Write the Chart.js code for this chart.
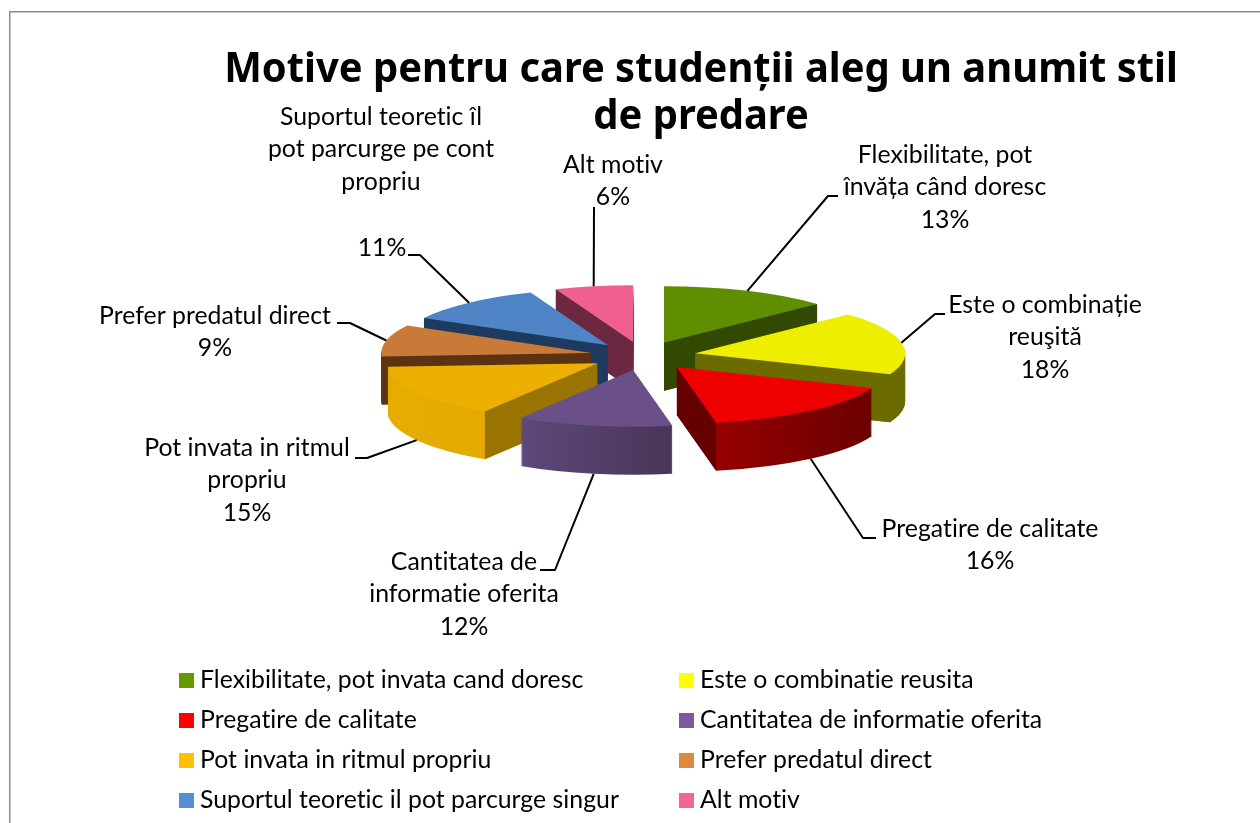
<!DOCTYPE html>
<html><head><meta charset="utf-8">
<style>html,body{margin:0;padding:0;background:#fff}canvas{display:block}</style>
<script src="https://cdn.jsdelivr.net/npm/chart.js@4"></script>
</head><body><canvas id="c" width="1260" height="823"></canvas>
<script>
const titleLines = ['Motive pentru care studenții aleg un anumit stil', 'de predare'];
const categories = ['Flexibilitate, pot invata cand doresc','Este o combinatie reusita','Pregatire de calitate','Cantitatea de informatie oferita','Pot invata in ritmul propriu','Prefer predatul direct','Suportul teoretic il pot parcurge singur','Alt motiv'];
const values = [13,18,16,12,15,9,11,6];
const faceColors = ['#5f8f00','#eeee00','#ee0000','#6b4f88','#ebb000','#c97a38','#4f84c6','#ef5f92'];
const legendColors = ['#669900','#ffff00','#ff0000','#7a5c9c','#ffc000','#dd8a40','#558ed5','#f0659a'];
const innerWall = ['#334800','#6b6b00','#660000','#4f3c68','#9a7400','#5c3312','#1f3a5f','#6b2840'];
const outerWallFrom = ['#334800','#6b6b00','#980000','#5f4a7d','#e9ae00','#5c3312','#1f3a5f','#6b2840'];
const outerWallTo = ['#334800','#6b6b00','#620000','#493759','#e3a800','#5c3312','#1f3a5f','#6b2840'];
const sliceLabels = [['Flexibilitate, pot','învăța când doresc','13%'],['Este o combinație','reuşită','18%'],['Pregatire de calitate','16%'],['Cantitatea de','informatie oferita','12%'],['Pot invata in ritmul','propriu','15%'],['Prefer predatul direct','9%'],['11%'],['Alt motiv','6%']];
const extraLabel = ['Suportul teoretic îl','pot parcurge pe cont','propriu'];
// label layout: centre x, first line centre y
const labelPos = [[945,155],[1045,305],[990,529],[464,562],[247,448],[215,316],[382,248],[613,165]];
const extraPos = [381,117];
// leader elbow points (screen layout)
const leaderPts = [[[828,196],[838,196]],[[935,314],[945,314]],[[863,538],[876,538]],[[555,570],[540,570]],[[367,458],[355,458]],[[350,323],[337,323]],[[420,255],[408,255]],[[594,207]]];
const drawOrder = [7,0,6,5,1,4,2,3];

const SQUASH = 0.27, EXPLODE = 53, DEPTH = 48, RADIUS = 210;
const LABEL_FONT = '24.8px Lato', LINE_H = 32.5;

const pie3d = {
  id:'pie3d',
  beforeDraw(chart){
    const c = chart.ctx; c.save();
    c.fillStyle='#fff'; c.fillRect(0,0,1260,823);
    c.strokeStyle='#8c8c8c'; c.lineWidth=1.5;
    c.beginPath(); c.moveTo(9.75,823); c.lineTo(9.75,11.75); c.lineTo(1260,11.75); c.stroke();
    c.fillStyle='#000'; c.textAlign='center'; c.textBaseline='middle';
    c.font='bold 42px "Noto Sans"';
    c.translate(701,0); c.scale(0.95,1);
    c.fillText(titleLines[0],0,70); c.fillText(titleLines[1],0,117);
    c.restore();
  },
  beforeDatasetDraw(chart){
    const c = chart.ctx, arcs = chart.getDatasetMeta(0).data;
    const geom = a => {
      const mid=(a.startAngle+a.endAngle)/2;
      return {mid, dx:Math.cos(mid)*EXPLODE, dy:Math.sin(mid)*EXPLODE};
    };
    const place = (a,g,z) => { c.translate(a.x,a.y+z); c.scale(1,SQUASH); c.translate(-a.x,-a.y); c.translate(g.dx,g.dy); };
    const paint = (a,col) => { const o=a.options; a.options=Object.assign({},o,{backgroundColor:col,borderWidth:0}); a.draw(c); a.options=o; };
    for(const i of drawOrder){
      const a=arcs[i], g=geom(a);
      const sx=a.x+g.dx;
      const pt=(ang,r)=>({x:sx+Math.cos(ang)*r, y:a.y+(g.dy+Math.sin(ang)*r)*SQUASH});
      const T=pt(0,0), S=pt(a.startAngle,a.outerRadius), E=pt(a.endAngle,a.outerRadius), M=pt(g.mid,a.outerRadius);
      const xs=[T.x,S.x,E.x,M.x];
      const grad=c.createLinearGradient(Math.min(...xs),0,Math.max(...xs),0);
      grad.addColorStop(0,outerWallFrom[i]); grad.addColorStop(1,outerWallTo[i]);
      for(let z=DEPTH;z>0;z--){ c.save(); place(a,g,z); paint(a,grad); c.restore(); }
      for(const P of [S,E]){
        const ex=P.x-T.x;
        if(Math.abs(ex)<1e-6) continue;
        const yl=T.y+(P.y-T.y)*(M.x-T.x)/ex;
        if(M.y<yl){
          c.fillStyle=innerWall[i]; c.beginPath();
          c.moveTo(T.x,T.y); c.lineTo(P.x,P.y); c.lineTo(P.x,P.y+DEPTH); c.lineTo(T.x,T.y+DEPTH); c.closePath(); c.fill();
        }
      }
      c.save(); place(a,g,0); paint(a,faceColors[i]); c.restore();
    }
    return false;
  },
  afterDraw(chart){
    const c=chart.ctx, arcs=chart.getDatasetMeta(0).data;
    c.save();
    c.strokeStyle='#000'; c.lineWidth=2; c.lineJoin='round';
    arcs.forEach((a,i)=>{
      const mid=(a.startAngle+a.endAngle)/2;
      const r=a.outerRadius+EXPLODE;
      const front=Math.sin(mid)>0.3;
      const x=a.x+Math.cos(mid)*r, y=a.y+Math.sin(mid)*r*SQUASH+(front?DEPTH:0);
      c.beginPath(); c.moveTo(x,y);
      leaderPts[i].forEach(p=>c.lineTo(p[0],p[1]));
      c.stroke();
    });
    c.fillStyle='#000'; c.textAlign='center'; c.textBaseline='middle'; c.font=LABEL_FONT;
    c.fontVariantCaps='normal';
    c.letterSpacing='0.02px';
    sliceLabels.forEach((ls,i)=>ls.forEach((t,j)=>c.fillText(t,labelPos[i][0],labelPos[i][1]+j*LINE_H)));
    extraLabel.forEach((t,j)=>c.fillText(t,extraPos[0],extraPos[1]+j*LINE_H));
    // legend
    c.textAlign='left';
    categories.forEach((t,i)=>{
      const col=i%2, row=Math.floor(i/2);
      const yc=680.5+row*40;
      c.fillStyle=legendColors[i];
      c.fillRect(col?679:179,yc-7.5,15,15);
      c.fillStyle='#000';
      c.fillText(t,col?700:200,yc);
    });
    c.restore();
  }
};

new Chart(document.getElementById('c'),{
  type:'pie',
  data:{labels:categories,datasets:[{data:values,backgroundColor:faceColors,borderWidth:0,radius:RADIUS}]},
  options:{
    responsive:false,animation:false,events:[],
    layout:{padding:{left:26,right:0,top:0,bottom:111}},
    plugins:{legend:{display:false},tooltip:{enabled:false},title:{display:false}}
  },
  plugins:[pie3d]
});
</script></body></html>
